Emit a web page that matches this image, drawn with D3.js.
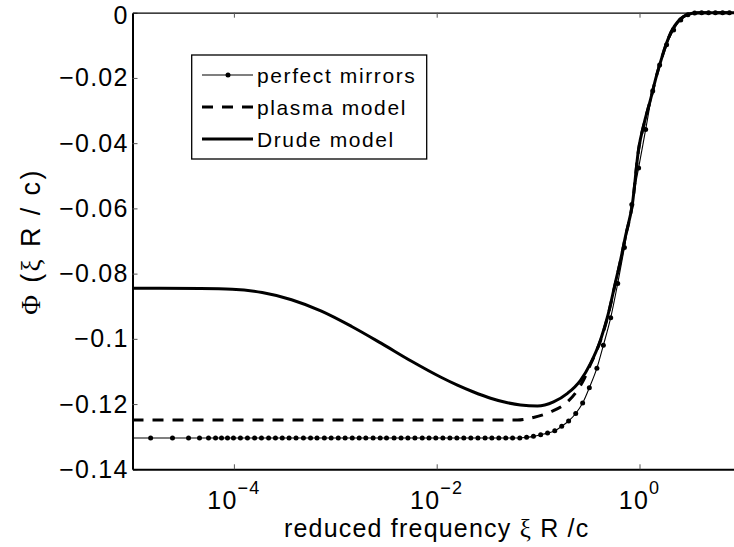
<!DOCTYPE html>
<html>
<head>
<meta charset="utf-8">
<script src="https://cdn.jsdelivr.net/npm/d3@7"></script>
<style>
  body { margin: 0; background: #fff; }
  text { font-family: "Liberation Sans", Arial, Helvetica, sans-serif; fill: #000; }
</style>
</head>
<body>
<div id="chart"></div>
<script>
//****************************************************************************
// Data

// perfect mirrors: sample points (each has a dot marker)
const pmXi = [4.6e-6, 1.51e-5, 2.48e-5, 3.57e-5, 4.58e-5, 5.62e-5, 6.59e-5, 7.55e-5, 8.65e-5, 9.9e-5,
  1.16e-4, 1.36e-4, 1.6e-4, 1.87e-4, 2.2e-4, 2.57e-4, 3.0e-4, 3.5e-4, 4.1e-4, 4.85e-4, 5.7e-4, 6.6e-4, 7.8e-4, 9.1e-4,
  1.07e-3, 1.25e-3, 1.47e-3, 1.72e-3, 2.0e-3, 2.36e-3, 2.77e-3, 3.2e-3, 3.8e-3, 4.45e-3, 5.2e-3, 6.1e-3, 7.2e-3, 8.4e-3, 9.8e-3,
  0.0115, 0.0135, 0.0158, 0.0185, 0.0217, 0.0255, 0.030, 0.035, 0.041, 0.048, 0.056, 0.066, 0.077, 0.090,
  0.106, 0.124, 0.146, 0.171, 0.20, 0.235, 0.275, 0.32, 0.38, 0.44, 0.52, 0.61, 0.71, 0.84, 0.98,
  1.15, 1.35, 1.58, 1.85, 2.17, 2.55, 3.0, 3.5, 4.1, 4.8, 5.6, 6.6, 7.7, 9.0, 10.6];
const pmPhi = [-0.1304, -0.1304, -0.1304, -0.1304, -0.1304, -0.1304, -0.1304, -0.1304, -0.1304, -0.1304,
  -0.1304, -0.1304, -0.1304, -0.1304, -0.1304, -0.1304, -0.1304, -0.1304, -0.1304, -0.1304, -0.1304, -0.1304, -0.1304, -0.1304,
  -0.1304, -0.1304, -0.1304, -0.1304, -0.1304, -0.1304, -0.1304, -0.1304, -0.1304, -0.1304, -0.1304, -0.1304, -0.1304, -0.1304, -0.1304,
  -0.1304, -0.1304, -0.1304, -0.1304, -0.1304, -0.1304, -0.1304, -0.1304, -0.1304, -0.1304, -0.1304, -0.1304, -0.1302, -0.1299,
  -0.1294, -0.1289, -0.1282, -0.1268, -0.1252, -0.1229, -0.1197, -0.1150, -0.1090, -0.1020, -0.0935, -0.0830, -0.0720, -0.0588, -0.0476,
  -0.0358, -0.0240, -0.0160, -0.0098, -0.0053, -0.0022, -0.0006, -0.0001, 0, 0, 0, 0, 0, 0, 0];

// plasma model
const plasmaXi = [1e-5, 1e-4, 1e-3, 0.01, 0.0626, 0.090, 0.132, 0.195, 0.245, 0.28, 0.329, 0.412, 0.483, 0.58, 0.65, 0.728, 0.853, 0.977, 1.12, 1.28, 1.47, 1.69, 1.93, 2.21, 2.54, 2.91, 3.33, 4.0, 10];
const plasmaPhi = [-0.1249, -0.1249, -0.1249, -0.1249, -0.1249, -0.1241, -0.1224, -0.1193, -0.1157, -0.1127, -0.1078, -0.1006, -0.0935, -0.0828, -0.0760, -0.0686, -0.0585, -0.0422, -0.0336, -0.0268, -0.0194, -0.0130, -0.0078, -0.0041, -0.0019, -0.0007, -0.0002, 0, 0];

// Drude model
const drudeXi = [1e-5, 4.69e-5, 9.6e-5, 1.9e-4, 3.7e-4, 7.3e-4, 1.45e-3, 2.85e-3, 5.6e-3, 0.0109, 0.016, 0.0231, 0.034, 0.0499, 0.067, 0.0986, 0.142, 0.195, 0.262, 0.329, 0.412, 0.483, 0.58, 0.65, 0.728, 0.853, 0.977, 1.12, 1.28, 1.47, 1.69, 1.93, 2.21, 2.54, 2.91, 3.33, 4.0, 10];
const drudePhi = [-0.0845, -0.0846, -0.0848, -0.0858, -0.0880, -0.0915, -0.0962, -0.1014, -0.1068, -0.1117, -0.1142, -0.1163, -0.1182, -0.1196, -0.1203, -0.1206, -0.1193, -0.1167, -0.1127, -0.1075, -0.1004, -0.0933, -0.0826, -0.0759, -0.0685, -0.0584, -0.0421, -0.0335, -0.0268, -0.0194, -0.0130, -0.0078, -0.0041, -0.0019, -0.0007, -0.0002, 0, 0];

const xTicks = [1e-4, 1e-2, 1];
const xTickExp = ["\u22124", "\u22122", "0"];
const yTicks = [0, -0.02, -0.04, -0.06, -0.08, -0.1, -0.12, -0.14];

const legendNames = ["perfect mirrors", "plasma model", "Drude model"];

//****************************************************************************
// Canvas

const W = 734, H = 547;
const left = 132.5, top_ = 12.7, bottom = 469.3, right = 740.9;

const svg = d3.select("#chart").append("svg")
  .attr("width", W).attr("height", H);

const x = d3.scaleLog().domain([1e-5, 10]).range([left, right]);
const y = d3.scaleLinear().domain([-0.14, 0]).range([bottom, top_]);

svg.append("clipPath").attr("id", "plotclip")
  .append("rect").attr("x", left).attr("y", 0).attr("width", right - left).attr("height", bottom + 5);

const plot = svg.append("g").attr("clip-path", "url(#plotclip)");

const zip = (xs, ys) => xs.map((d, i) => [d, ys[i]]);
const line = d3.line().x(d => x(d[0])).y(d => y(d[1])).curve(d3.curveMonotoneX);

const pmData = zip(pmXi, pmPhi);

// perfect mirrors
plot.append("path").datum(pmData)
  .attr("d", line)
  .attr("fill", "none").attr("stroke", "#000").attr("stroke-width", 1.1);
plot.selectAll("circle.pm").data(pmData).enter().append("circle")
  .attr("class", "pm")
  .attr("cx", d => x(d[0])).attr("cy", d => y(d[1])).attr("r", 2.5)
  .attr("fill", "#000");

// plasma
plot.append("path").datum(zip(plasmaXi, plasmaPhi))
  .attr("d", line)
  .attr("fill", "none").attr("stroke", "#000").attr("stroke-width", 3)
  .attr("stroke-dasharray", "11,9");

// Drude
plot.append("path").datum(zip(drudeXi, drudePhi))
  .attr("d", line)
  .attr("fill", "none").attr("stroke", "#000").attr("stroke-width", 3);

//****************************************************************************
// Axes

const yAxis = svg.append("g")
  .attr("transform", `translate(${left},0)`)
  .call(d3.axisLeft(y).tickValues(yTicks).tickSize(-5).tickSizeOuter(0).tickPadding(4)
    .tickFormat(d => d === 0 ? "0" : d3.format(".2~f")(d)));
yAxis.select(".domain").attr("stroke-width", 2);
yAxis.selectAll(".tick line").attr("stroke", "#555");
yAxis.selectAll(".tick text")
  .style("font-size", "25px").style("letter-spacing", "1.2px");
// the top label sits a little lower, clear of the edge
yAxis.selectAll(".tick text").filter(d => d === 0).attr("dy", "0.42em");

const xAxis = svg.append("g")
  .attr("transform", `translate(0,${bottom})`)
  .call(d3.axisBottom(x).tickValues(xTicks).tickSize(-5).tickSizeOuter(0).tickFormat(""));
xAxis.select(".domain").attr("stroke-width", 2);
xAxis.selectAll(".tick line").attr("stroke", "#555");

// top frame line + ticks
const xTop = svg.append("g")
  .attr("transform", `translate(0,${top_})`)
  .call(d3.axisTop(x).tickValues(xTicks).tickSize(-5).tickSizeOuter(0).tickFormat(""));
xTop.select(".domain").attr("stroke-width", 1.2);
xTop.selectAll(".tick line").attr("stroke", "#555");

// x tick labels 10^n
const xl = svg.append("g").selectAll("text").data(xTicks).enter().append("text")
  .attr("x", d => x(d)).attr("y", 509)
  .attr("text-anchor", "middle")
  .style("font-size", "25px").style("letter-spacing", "1.2px");
xl.append("tspan").text("10");
xl.append("tspan").attr("dy", -15).style("font-size", "18px")
  .text((d, i) => xTickExp[i]);

// axis titles
const xt = svg.append("text")
  .attr("x", 436.7).attr("y", 537)
  .attr("text-anchor", "middle")
  .style("font-size", "25px").style("letter-spacing", "1.2px");
xt.append("tspan").text("reduced frequency ");
xt.append("tspan").style("font-family", "'Liberation Serif', serif").text("\u03BE");
xt.append("tspan").text(" R /c");

const yt = svg.append("text")
  .attr("transform", "translate(40,241.5) rotate(-90)")
  .attr("text-anchor", "middle")
  .style("font-size", "27px").style("letter-spacing", "2.4px");
yt.append("tspan").style("font-family", "'Liberation Serif', serif").text("\u03A6");
yt.append("tspan").text(" (");
yt.append("tspan").style("font-family", "'Liberation Serif', serif").text("\u03BE");
yt.append("tspan").text(" R / c)");

//****************************************************************************
// Legend

const lg = svg.append("g");
lg.append("rect")
  .attr("x", 191.7).attr("y", 55).attr("width", 235).attr("height", 104)
  .attr("fill", "#fff").attr("stroke", "#000").attr("stroke-width", 1.3);

const rowY = [75, 107, 139];
const rows = lg.selectAll("g.row").data(legendNames).enter().append("g")
  .attr("class", "row")
  .attr("transform", (d, i) => `translate(0,${rowY[i]})`);

rows.append("line")
  .attr("x1", 202).attr("x2", 253).attr("y1", 0).attr("y2", 0)
  .attr("stroke", "#000")
  .attr("stroke-width", (d, i) => i === 0 ? 1.1 : 3)
  .attr("stroke-dasharray", (d, i) => i === 1 ? "11,9" : null);
rows.filter((d, i) => i === 0).append("circle")
  .attr("cx", 228).attr("cy", 0).attr("r", 2.5).attr("fill", "#000");
rows.append("text")
  .attr("x", 257).attr("y", 7.5)
  .style("font-size", "21px").style("letter-spacing", "1.6px")
  .text(d => d);
</script>
</body>
</html>
